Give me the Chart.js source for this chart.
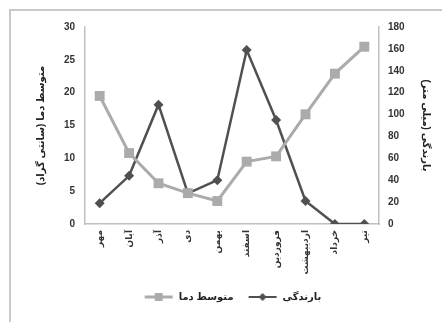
<!DOCTYPE html>
<html>
<head>
<meta charset="utf-8">
<script src="https://cdn.jsdelivr.net/npm/chart.js@4/dist/chart.umd.min.js"></script>
<style>
  html, body { margin: 0; padding: 0; background: #fff; overflow: hidden; }
  #wrap {
    position: absolute; left: 9px; top: 9px;
    width: 440px; height: 320px;
    border-left: 2px solid #c8c8c8; border-top: 2px solid #c8c8c8;
  }
  #wrap canvas { display: block; }
</style>
</head>
<body>
<div id="wrap"><canvas id="myChart" width="440" height="320"></canvas></div>
<script>
"use strict"

// months (Persian)
let months = ["مهر", "آبان", "آذر", "دی", "بهمن", "اسفند", "فروردین", "اردیبهشت", "خرداد", "تیر"];
// average temperature (left axis)
let avgTemp = [19.5, 10.8, 6.2, 4.7, 3.5, 9.5, 10.3, 16.7, 22.9, 27];
// rainfall (right axis)
let rainfall = [19, 44, 109, 28, 40, 159, 95, 21, 0, 0];

let tempLabel = "متوسط دما";
let rainLabel = "بارندگی";
let leftTitle = "متوسط دما (سانتی گراد)";
let rightTitle = "بارندگی (میلی متر)";

const fontFam = "'Liberation Sans', 'DejaVu Sans', Arial, sans-serif";
const tempColor = "#ababab";
const rainColor = "#505050";

// small legend swatch: line with a marker in the middle
function legendIcon(color, diamond) {
    let c = document.createElement("canvas");
    c.width = 30;
    c.height = 12;
    let ctx = c.getContext("2d");
    ctx.strokeStyle = color;
    ctx.lineWidth = diamond ? 2 : 3;
    ctx.beginPath();
    ctx.moveTo(1, 6);
    ctx.lineTo(29, 6);
    ctx.stroke();
    ctx.fillStyle = color;
    ctx.beginPath();
    if (diamond) {
        ctx.moveTo(15, 2); ctx.lineTo(19, 6); ctx.lineTo(15, 10); ctx.lineTo(11, 6);
    } else {
        ctx.rect(11, 2, 8, 8);
    }
    ctx.fill();
    return c;
}

let icons = [legendIcon(tempColor, false), legendIcon(rainColor, true)];

let ctx = document.getElementById("myChart").getContext("2d");
new Chart(ctx, {
    type: "line",
    data: {
        labels: months,
        datasets: [
            {
                label: tempLabel,
                data: avgTemp,
                yAxisID: "y",
                borderColor: tempColor,
                backgroundColor: tempColor,
                borderWidth: 3,
                pointStyle: "rect",
                pointRadius: 7,
                pointBorderWidth: 0,
                tension: 0
            },
            {
                label: rainLabel,
                data: rainfall,
                yAxisID: "y1",
                borderColor: rainColor,
                backgroundColor: rainColor,
                borderWidth: 2.5,
                pointStyle: "rectRot",
                pointRadius: 5,
                pointBorderWidth: 0,
                tension: 0
            }
        ]
    },
    options: {
        responsive: false,
        animation: false,
        layout: { padding: { left: 18, right: 15, top: 13, bottom: 19 } },
        plugins: {
            tooltip: { enabled: false },
            legend: {
                position: "bottom",
                labels: {
                    usePointStyle: true,
                    pointStyleWidth: 30,
                    padding: 14,
                    color: "#222",
                    font: { family: fontFam, size: 10, weight: "bold" },
                    generateLabels: function (chart) {
                        let items = Chart.defaults.plugins.legend.labels.generateLabels(chart);
                        items.forEach(function (it, i) { it.pointStyle = icons[i]; });
                        return items;
                    }
                }
            }
        },
        scales: {
            x: {
                offset: true,
                grid: { display: false, drawTicks: false },
                border: { color: "#c0c0c0", width: 1.5 },
                ticks: {
                    minRotation: 90, maxRotation: 90, padding: 6,
                    color: "#333",
                    font: { family: fontFam, size: 9, weight: "bold" }
                },
                afterFit: function (scale) { scale.height = 54; }
            },
            y: {
                position: "left",
                min: 0, max: 30,
                ticks: {
                    stepSize: 5, padding: 10, color: "#333",
                    font: { family: fontFam, size: 10, weight: "bold" }
                },
                grid: { display: false, drawTicks: false },
                border: { color: "#c0c0c0", width: 1.5 },
                title: {
                    display: true, text: leftTitle, color: "#222",
                    padding: { top: 6, bottom: 4 },
                    font: { family: fontFam, size: 10, weight: "bold" }
                },
                afterFit: function (scale) { scale.width = 56; }
            },
            y1: {
                position: "right",
                min: 0, max: 180,
                ticks: {
                    stepSize: 20, padding: 9, color: "#333",
                    font: { family: fontFam, size: 10, weight: "bold" }
                },
                grid: { display: false, drawTicks: false },
                border: { color: "#c0c0c0", width: 1.5 },
                title: {
                    display: true, text: rightTitle, color: "#222",
                    padding: { top: 4, bottom: 4 },
                    font: { family: fontFam, size: 10, weight: "bold" }
                },
                afterFit: function (scale) { scale.width = 57; }
            }
        }
    }
});
</script>
</body>
</html>
